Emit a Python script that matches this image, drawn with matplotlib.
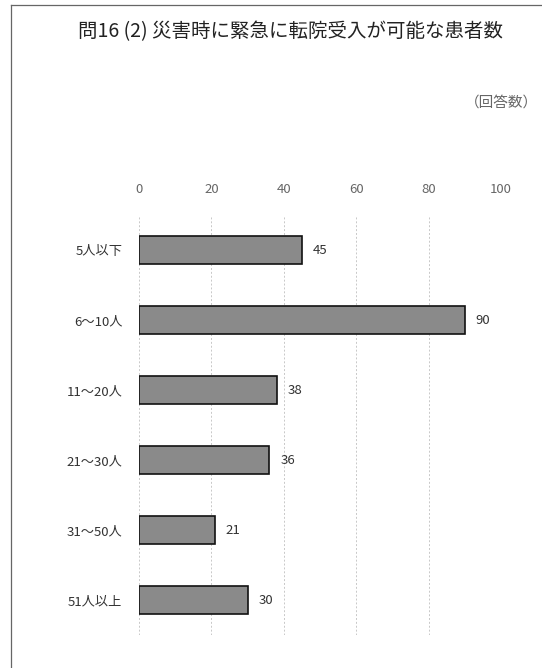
import matplotlib
matplotlib.use("Agg")
import matplotlib.pyplot as plt
from matplotlib.lines import Line2D

plt.rcParams['font.family'] = ['Noto Sans CJK JP', 'DejaVu Sans']

categories = ["5人以下", "6～10人", "11～20人", "21～30人", "31～50人", "51人以上"]
counts = [45, 90, 38, 36, 21, 30]
ticks = [0, 20, 40, 60, 80, 100]

W, H = 542, 668
fig = plt.figure(figsize=(W / 100, H / 100), dpi=100)
fig.patch.set_facecolor('white')

# plot area in pixel terms: x 139..501, y 215..635
ax = fig.add_axes([139 / W, 1 - 635 / H, (501 - 139) / W, (635 - 215) / H])

y = list(range(len(categories)))
ax.barh(y, counts, height=0.39, color='#8a8a8a', edgecolor='#111111', linewidth=1.2, zorder=3)
for yi, v in zip(y, counts):
    ax.text(v + 3, yi, str(v), va='center', ha='left', fontsize=9.5, color='#333333')

ax.set_xlim(0, 100)
ax.set_ylim(len(categories) - 0.5, -0.5)
ax.set_xticks(ticks)
ax.set_yticks(y)
ax.set_yticklabels(categories, fontsize=9.5, color='#333333')
ax.xaxis.tick_top()
ax.tick_params(axis='x', length=0, pad=14, labelsize=9.5, labelcolor='#666666')
ax.tick_params(axis='y', length=0, pad=12)
ax.grid(axis='x', color='#c8c8c8', linestyle=(0, (2, 2)), linewidth=0.7, zorder=0)
for s in ax.spines.values():
    s.set_visible(False)

fig.text(290 / W, 1 - 32 / H, "問16 (2) 災害時に緊急に転院受入が可能な患者数",
         ha='center', va='center', fontsize=14, color='#222222')
fig.text(538 / W, 1 - 103 / H, "（回答数）", ha='right', va='center',
         fontsize=10.5, color='#666666')

# outer frame (top and left edges)
fig.add_artist(Line2D([11 / W, 1], [1 - 5 / H, 1 - 5 / H], transform=fig.transFigure,
                      color='#666666', linewidth=0.9))
fig.add_artist(Line2D([11 / W, 11 / W], [0, 1 - 5 / H], transform=fig.transFigure,
                      color='#666666', linewidth=0.9))

fig.savefig("out.png", dpi=100)
